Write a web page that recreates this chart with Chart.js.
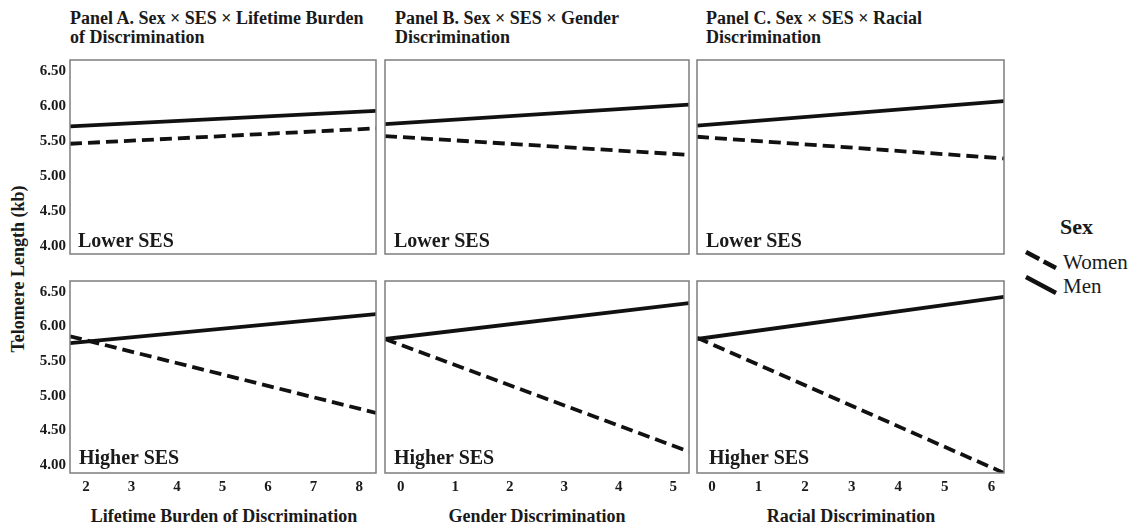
<!DOCTYPE html>
<html>
<head>
<meta charset="utf-8">
<script src="https://cdn.jsdelivr.net/npm/chart.js@4.4.0/dist/chart.umd.min.js"></script>
<style>
  body { margin: 0; background: #fff; }
  #wrap { position: relative; width: 1142px; height: 529px; background: #fff; overflow: hidden;
          font-family: "Liberation Serif", "Times New Roman", serif; color: #1a1a1a; }
  #wrap canvas { position: absolute; }
  .t { position: absolute; white-space: nowrap; font-weight: bold; }
  .ptitle { font-size: 18px; line-height: 19px; }
  .ses { font-size: 20px; line-height: 20px; }
  .xt { font-size: 18px; line-height: 18px; text-align: center; width: 360px; }
  .yt { font-size: 18px; line-height: 20px; text-align: center; width: 220px; height: 20px;
        transform: rotate(-90deg); }
  .leg { position: absolute; white-space: nowrap; font-size: 21px; line-height: 21px; }
</style>
</head>
<body>
<div id="wrap">
  <div class="t ptitle" style="left:70px;top:9px">Panel A. Sex × SES × Lifetime Burden<br>of Discrimination</div>
  <div class="t ptitle" style="left:395px;top:9px">Panel B. Sex × SES × Gender<br>Discrimination</div>
  <div class="t ptitle" style="left:706px;top:9px">Panel C. Sex × SES × Racial<br>Discrimination</div>

  <div class="t yt" style="left:-92px;top:259px">Telomere Length (kb)</div>

  <div class="t xt" style="left:44px;top:507px">Lifetime Burden of Discrimination</div>
  <div class="t xt" style="left:357px;top:507px">Gender Discrimination</div>
  <div class="t xt" style="left:671px;top:507px">Racial Discrimination</div>

  <div class="t" style="left:1060px;top:216px;font-size:22px;line-height:22px">Sex</div>
  <svg style="position:absolute;left:1020px;top:245px" width="45" height="55">
    <line x1="6" y1="7" x2="36" y2="23" stroke="#111" stroke-width="4.5" stroke-dasharray="15 5"/>
    <line x1="6" y1="32" x2="36" y2="48" stroke="#111" stroke-width="4.5"/>
  </svg>
  <div class="leg" style="left:1063px;top:252px">Women</div>
  <div class="leg" style="left:1063px;top:276px">Men</div>
</div>

<script>
// tick labels
const yTicks = [4.0, 4.5, 5.0, 5.5, 6.0, 6.5];
const yRange = [3.88, 6.66];
const xTicksA = [2, 3, 4, 5, 6, 7, 8];
const xTicksB = [0, 1, 2, 3, 4, 5];
const xTicksC = [0, 1, 2, 3, 4, 5, 6];

// discrimination values at the ends of each fitted line (= axis range)
const xEndsA = [1.65, 8.37];
const xEndsB = [-0.29, 5.29];
const xEndsC = [-0.32, 6.27];

// predicted telomere length (kb) at those ends
const menLowerA = [5.71, 5.93];
const womenLowerA = [5.46, 5.68];
const menHigherA = [5.76, 6.18];
const womenHigherA = [5.86, 4.75];

const menLowerB = [5.74, 6.02];
const womenLowerB = [5.57, 5.30];
const menHigherB = [5.82, 6.34];
const womenHigherB = [5.82, 4.19];

const menLowerC = [5.72, 6.07];
const womenLowerC = [5.56, 5.25];
const menHigherC = [5.82, 6.43];
const womenHigherC = [5.84, 3.88];

const sesLabels = ['Lower SES', 'Higher SES'];

const FONT = '"Liberation Serif", "Times New Roman", serif';
const INK = '#1a1a1a';

const boxPlugin = {
  id: 'box',
  afterDraw(chart) {
    const a = chart.chartArea, c = chart.ctx;
    c.save();
    c.strokeStyle = '#7d7d7d';
    c.lineWidth = 1.5;
    c.strokeRect(a.left, a.top, a.right - a.left, a.bottom - a.top);
    c.restore();
  }
};

// no extra label overflow padding, the box is placed by hand
const noPad = s => { s.paddingTop = 0; s.paddingBottom = 0; s.paddingLeft = 0; s.paddingRight = 0; };

const cols = [
  { left: 70, width: 306, xTicks: xTicksA, xEnds: xEndsA, men: [menLowerA, menHigherA], women: [womenLowerA, womenHigherA], sesX: [78, 79] },
  { left: 385, width: 304, xTicks: xTicksB, xEnds: xEndsB, men: [menLowerB, menHigherB], women: [womenLowerB, womenHigherB], sesX: [394, 394] },
  { left: 697, width: 307, xTicks: xTicksC, xEnds: xEndsC, men: [menLowerC, menHigherC], women: [womenLowerC, womenHigherC], sesX: [706, 709] }
];
const rows = [
  { top: 60, height: 194, sesTop: 230 },
  { top: 281, height: 192, sesTop: 447 }
];

const wrap = document.getElementById('wrap');
const P = 3;

rows.forEach((row, r) => {
  cols.forEach((col, ci) => {
    const YW = ci === 0 ? 40 : 0;
    const XH = r === 1 ? 34 : 0;
    const cv = document.createElement('canvas');
    cv.width = col.width + 2 * P + YW;
    cv.height = row.height + 2 * P + XH;
    cv.style.left = (col.left - P - YW) + 'px';
    cv.style.top = (row.top - P) + 'px';
    cv.style.width = cv.width + 'px';
    cv.style.height = cv.height + 'px';
    wrap.appendChild(cv);

    const toPts = vals => col.xEnds.map((x, i) => ({ x: x, y: vals[i] }));

    new Chart(cv, {
      type: 'line',
      data: {
        datasets: [
          { label: 'Women', data: toPts(col.women[r]), borderColor: '#111', borderWidth: 3.8,
            borderDash: [12, 6], pointRadius: 0, fill: false, tension: 0 },
          { label: 'Men', data: toPts(col.men[r]), borderColor: '#111', borderWidth: 3.8,
            pointRadius: 0, fill: false, tension: 0 }
        ]
      },
      options: {
        responsive: false,
        animation: false,
        layout: { padding: P },
        plugins: { legend: { display: false }, tooltip: { enabled: false } },
        scales: {
          x: {
            type: 'linear',
            min: col.xEnds[0], max: col.xEnds[1],
            display: r === 1,
            grid: { display: false, drawTicks: false },
            border: { display: false },
            ticks: { font: { family: FONT, size: 15, weight: 'bold' }, color: INK, padding: 5,
                     autoSkip: false, maxRotation: 0, callback: v => String(v) },
            afterBuildTicks: s => { s.ticks = col.xTicks.map(v => ({ value: v })); },
            afterFit: s => { s.height = XH; noPad(s); }
          },
          y: {
            type: 'linear',
            min: yRange[0], max: yRange[1],
            display: ci === 0,
            grid: { display: false, drawTicks: false },
            border: { display: false },
            ticks: { font: { family: FONT, size: 15, weight: 'bold' }, color: INK, padding: 4,
                     callback: v => Number(v).toFixed(2) },
            afterBuildTicks: s => { s.ticks = yTicks.map(v => ({ value: v })); },
            afterFit: s => { s.width = YW; noPad(s); }
          }
        }
      },
      plugins: [boxPlugin]
    });

    const lab = document.createElement('div');
    lab.className = 't ses';
    lab.style.left = col.sesX[r] + 'px';
    lab.style.top = row.sesTop + 'px';
    lab.textContent = sesLabels[r];
    wrap.appendChild(lab);
  });
});
</script>
</body>
</html>
